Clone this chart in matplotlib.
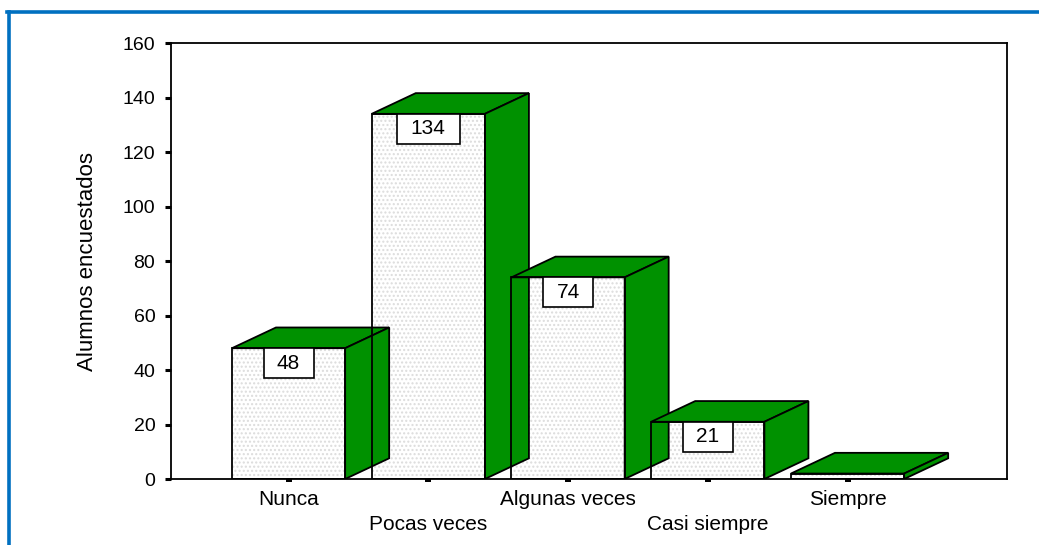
import matplotlib
matplotlib.use('Agg')
import matplotlib.pyplot as plt
from matplotlib.patches import Polygon, Rectangle
from matplotlib.lines import Line2D

# Datos
categorias = ['Nunca', 'Pocas veces', 'Algunas veces', 'Casi siempre', 'Siempre']
alumnos = [48, 134, 74, 21, 2]
etiquetas = ['48', '134', '74', '21', '']

verde = '#009100'
azul = '#0070c0'

plt.rcParams['font.family'] = ['Liberation Sans', 'DejaVu Sans']

fig = plt.figure(figsize=(10.39, 5.45), dpi=100)
ax = fig.add_axes([0.1646, 0.1211, 0.8046, 0.8])

ancho = 0.81   # ancho de la cara frontal
dx = 0.315     # profundidad horizontal
dy = 7.6       # profundidad vertical

# caras frontales (relleno punteado)
for i, v in enumerate(alumnos):
    x0 = i - ancho / 2
    ax.add_patch(Rectangle((x0, 0), ancho, v, facecolor='white',
                           edgecolor='#dcdcdc', linewidth=0, hatch='....', zorder=2))

# lados y tapas en verde
for i, v in enumerate(alumnos):
    x0 = i - ancho / 2
    x1 = i + ancho / 2
    tapa = [(x0, v), (x1, v), (x1 + dx, v + dy), (x0 + dx, v + dy)]
    lado = [(x1, 0), (x1 + dx, dy), (x1 + dx, v + dy), (x1, v)]
    ax.add_patch(Polygon(tapa, closed=True, facecolor=verde, edgecolor='black',
                         linewidth=1.3, zorder=3))
    ax.add_patch(Polygon(lado, closed=True, facecolor=verde, edgecolor='black',
                         linewidth=1.3, zorder=3))

# bordes de las caras frontales encima
for i, v in enumerate(alumnos):
    x0 = i - ancho / 2
    ax.add_patch(Rectangle((x0, 0), ancho, v, fill=False, edgecolor='black',
                           linewidth=1.3, zorder=4))

# etiquetas con recuadro
px_x = 139.75  # pixeles por unidad en x
px_y = 2.725   # pixeles por unidad en y
for i, (v, et) in enumerate(zip(alumnos, etiquetas)):
    if not et:
        continue
    w = (50 if len(et) < 3 else 63) / px_x
    h = 30 / px_y
    ax.add_patch(Rectangle((i - w / 2, v - h), w, h, facecolor='white',
                           edgecolor='black', linewidth=1.2, zorder=5))
    ax.text(i, v - h / 2, et, ha='center', va='center', fontsize=15, zorder=6)

ax.set_xlim(-0.841, 5.141)
ax.set_ylim(0, 160)
ax.set_yticks(range(0, 161, 20))
ax.set_xticks(range(len(categorias)))
ax.set_xticklabels([c if i % 2 == 0 else '\n' + c for i, c in enumerate(categorias)],
                   fontsize=15, linespacing=1.35)
ax.tick_params(axis='y', direction='out', length=4.3, width=2.2, pad=7, labelsize=14)
ax.tick_params(axis='x', direction='out', length=2.2, width=4.3, pad=6, labelsize=15)
for s in ax.spines.values():
    s.set_linewidth(1.3)

ax.set_ylabel('Alumnos encuestados', fontsize=16, labelpad=18)

# marco azul
fig.add_artist(Line2D([0.0089, 0.0089], [0, 0.9780], color=azul, linewidth=2.6,
                      transform=fig.transFigure))
fig.add_artist(Line2D([0.0072, 1.0], [0.9780, 0.9780], color=azul, linewidth=2.6,
                      transform=fig.transFigure))

plt.savefig('out.png', dpi=100)
